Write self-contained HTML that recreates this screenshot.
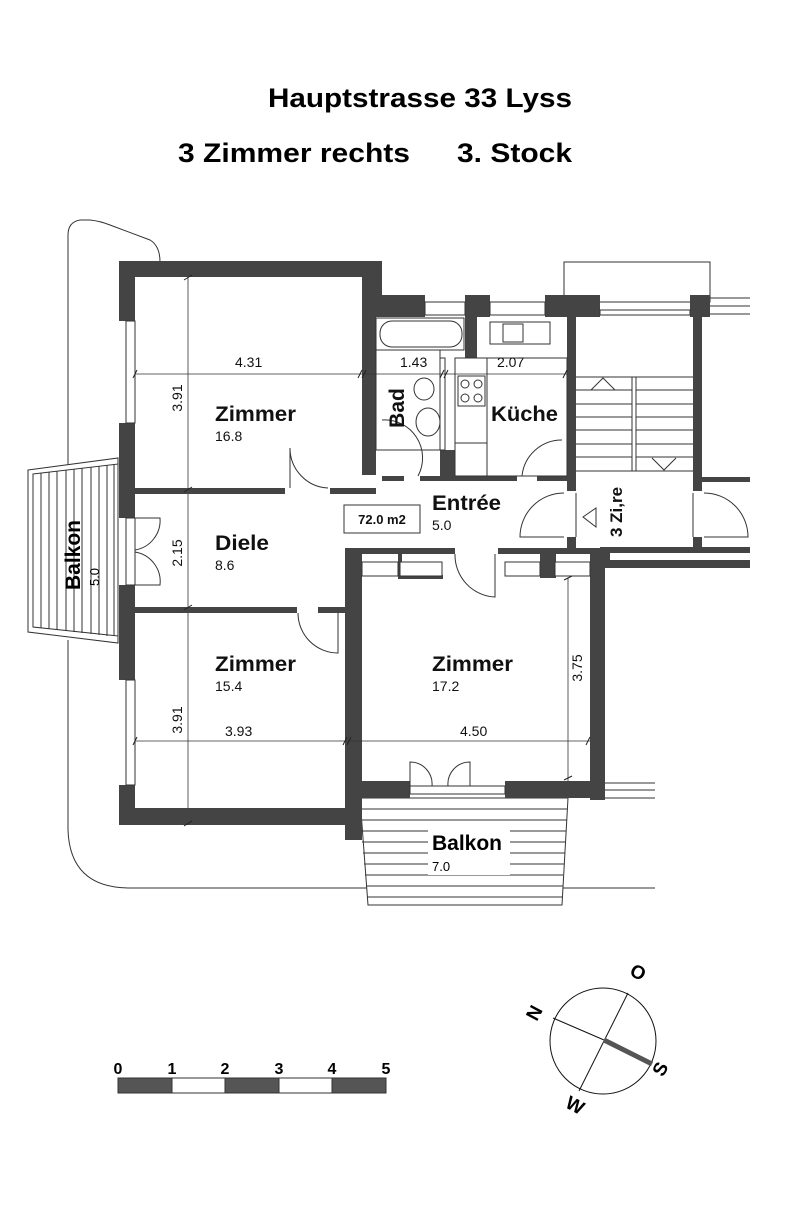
<!DOCTYPE html>
<html><head><meta charset="utf-8"><style>
html,body{margin:0;padding:0;background:#fff;}
svg{display:block;}
text{font-family:"Liberation Sans",Arial,sans-serif;}
</style></head><body>
<svg width="800" height="1208" viewBox="0 0 800 1208" xmlns="http://www.w3.org/2000/svg">
<!-- titles -->
<text x="268" y="107" font-size="27" font-weight="bold" textLength="304" lengthAdjust="spacingAndGlyphs">Hauptstrasse 33 Lyss</text>
<text x="178" y="162" font-size="27" font-weight="bold" textLength="232" lengthAdjust="spacingAndGlyphs">3 Zimmer rechts</text>
<text x="457" y="162" font-size="27" font-weight="bold" textLength="115" lengthAdjust="spacingAndGlyphs">3. Stock</text>

<!-- site outline -->
<g fill="none" stroke="#333" stroke-width="1">
<path d="M68 470 L68 235 Q68 222 80 220 L90 220 Q100 221 110 225 L150 240 Q160 246 160 262"/>
<path d="M68 640 L68 830 Q70 888 130 888 L655 888"/>
<rect x="564" y="262" width="146" height="40"/>
<path d="M703 298 L750 298 M703 306 L750 306 M703 314 L750 314"/>
<path d="M605 783 L655 783 M605 790 L655 790 M605 798 L655 798"/>
</g>

<!-- left balcony -->
<g fill="#fff" stroke="#333" stroke-width="1">
<polygon points="28,470 118,458 118,643 28,632"/>
<polygon points="33,474 118,464 118,636 33,627"/>
</g>
<g stroke="#333" stroke-width="1">
<line x1="41" y1="473" x2="41" y2="628"/><line x1="49" y1="472" x2="49" y2="629"/>
<line x1="57" y1="471" x2="57" y2="630"/><line x1="66" y1="470" x2="66" y2="631"/>
<line x1="74" y1="469" x2="74" y2="632"/><line x1="82" y1="468" x2="82" y2="633"/>
<line x1="91" y1="467" x2="91" y2="634"/><line x1="99" y1="466" x2="99" y2="635"/>
<line x1="107" y1="465" x2="107" y2="636"/><line x1="114" y1="464" x2="114" y2="636"/>
</g>
<text transform="translate(80,555) rotate(-90)" font-size="21" font-weight="bold" text-anchor="middle">Balkon</text>
<text transform="translate(99,577) rotate(-90)" font-size="13" text-anchor="middle">5.0</text>

<!-- bottom balcony -->
<polygon points="360,798 568,798 562,905 368,905" fill="#fff" stroke="#333"/>
<g stroke="#333" stroke-width="1">
<line x1="361" y1="809" x2="567" y2="809"/><line x1="361" y1="820" x2="567" y2="820"/>
<line x1="362" y1="831" x2="566" y2="831"/><line x1="362" y1="842" x2="566" y2="842"/>
<line x1="363" y1="853" x2="565" y2="853"/><line x1="364" y1="864" x2="564" y2="864"/>
<line x1="365" y1="875" x2="563" y2="875"/><line x1="366" y1="886" x2="563" y2="886"/>
<line x1="367" y1="897" x2="562" y2="897"/>
</g>
<rect x="428" y="830" width="82" height="45" fill="#fff"/>
<text x="432" y="850" font-size="21" font-weight="bold">Balkon</text>
<text x="432" y="871" font-size="13">7.0</text>

<!-- walls -->
<g fill="#444">
<rect x="119" y="261" width="263" height="16"/>
<rect x="362" y="261" width="20" height="54"/>
<rect x="362" y="295" width="63" height="22"/>
<rect x="465" y="295" width="25" height="22"/>
<rect x="545" y="295" width="55" height="22"/>
<rect x="690" y="295" width="20" height="22"/>
<rect x="362" y="315" width="14" height="160"/>
<rect x="465" y="300" width="12" height="58"/>
<rect x="119" y="261" width="16" height="60"/>
<rect x="119" y="423" width="16" height="95"/>
<rect x="119" y="585" width="16" height="95"/>
<rect x="119" y="785" width="16" height="40"/>
<rect x="119" y="808" width="243" height="17"/>
<rect x="135" y="488" width="150" height="6"/>
<rect x="330" y="488" width="46" height="6"/>
<rect x="135" y="607" width="162" height="6"/>
<rect x="318" y="607" width="27" height="6"/>
<rect x="382" y="476" width="22" height="5"/>
<rect x="420" y="476" width="97" height="5"/>
<rect x="537" y="476" width="30" height="5"/>
<rect x="440" y="450" width="15" height="27"/>
<rect x="567" y="315" width="9" height="176"/>
<rect x="693" y="315" width="9" height="176"/>
<rect x="702" y="477" width="48" height="5"/>
<rect x="567" y="537" width="9" height="12"/>
<rect x="693" y="537" width="9" height="12"/>
<rect x="600" y="547" width="150" height="6"/>
<rect x="600" y="553" width="10" height="15"/>
<rect x="600" y="560" width="150" height="8"/>
<rect x="345" y="548" width="17" height="292"/>
<rect x="345" y="548" width="110" height="6"/>
<rect x="498" y="548" width="102" height="6"/>
<rect x="398" y="554" width="4" height="24"/>
<rect x="398" y="575" width="45" height="4"/>
<rect x="540" y="554" width="16" height="24"/>
<rect x="590" y="548" width="15" height="252"/>
<rect x="345" y="781" width="65" height="17"/>
<rect x="505" y="781" width="100" height="17"/>
<rect x="345" y="808" width="17" height="32"/>
</g>
<g fill="#fff" stroke="#333" stroke-width="1">
<rect x="126" y="321" width="9" height="102"/>
<rect x="126" y="680" width="9" height="105"/>
<rect x="126" y="518" width="9" height="67"/>
<rect x="425" y="302" width="40" height="13"/>
<rect x="490" y="302" width="55" height="13"/>
<rect x="600" y="310" width="90" height="5"/>
<rect x="410" y="786" width="95" height="8"/>
<rect x="400" y="562" width="42" height="14"/>
<rect x="505" y="562" width="35" height="14"/>
<rect x="555" y="562" width="35" height="14"/>
<rect x="362" y="562" width="36" height="14"/>
</g>

<!-- fixtures -->
<g fill="none" stroke="#333" stroke-width="1">
<rect x="376" y="318" width="88" height="32"/>
<rect x="380" y="321" width="82" height="26" rx="12"/>
<rect x="376" y="350" width="64" height="100"/>
<rect x="440" y="358" width="5" height="92"/>
<ellipse cx="424" cy="389" rx="10" ry="11"/>
<ellipse cx="428" cy="422" rx="12" ry="14"/>
<rect x="490" y="322" width="60" height="22"/>
<rect x="503" y="324" width="20" height="18"/>
<rect x="455" y="358" width="112" height="118"/>
<line x1="487" y1="358" x2="487" y2="476"/>
<line x1="455" y1="443" x2="487" y2="443"/>
<rect x="458" y="376" width="27" height="30"/>
<circle cx="465" cy="384" r="4"/><circle cx="478" cy="384" r="4"/>
<circle cx="465" cy="398" r="4"/><circle cx="478" cy="398" r="4"/>
<line x1="576" y1="377" x2="693" y2="377"/>
<line x1="576" y1="390" x2="693" y2="390"/>
<line x1="576" y1="404" x2="693" y2="404"/>
<line x1="576" y1="417" x2="693" y2="417"/>
<line x1="576" y1="430" x2="693" y2="430"/>
<line x1="576" y1="444" x2="693" y2="444"/>
<line x1="576" y1="457" x2="693" y2="457"/>
<line x1="576" y1="471" x2="693" y2="471"/>
<rect x="632" y="377" width="4" height="94" fill="#fff"/>
<path d="M591 390 L603 378 L615 390"/>
<path d="M652 458 L664 470 L676 458"/>
<path d="M596 508 L583 517 L596 527 Z"/>
<path d="M290 488 L290 448 A40 40 0 0 0 328 488"/>
<path d="M298 613 A40 40 0 0 0 338 653 L338 613"/>
<path d="M382 420 A38 38 0 0 1 418 476"/>
<path d="M562 440 A40 40 0 0 0 522 476"/>
<path d="M564 493 A44 44 0 0 0 520 537 L564 537"/>
<path d="M704 493 A44 44 0 0 1 748 537 L704 537"/>
<path d="M455 554 A42 42 0 0 0 495 597 L495 554"/>
<path d="M135 518 L160 518 A30 30 0 0 1 135 550"/>
<path d="M135 585 L160 585 A30 30 0 0 0 135 552"/>
<path d="M410 786 L410 762 A22 22 0 0 1 432 786"/>
<path d="M470 786 L470 762 A22 22 0 0 0 448 786"/>
<line x1="576" y1="493" x2="576" y2="537"/>
<line x1="693" y1="493" x2="693" y2="537"/>
<rect x="344" y="505" width="76" height="28"/>
</g>

<!-- dimension lines -->
<g stroke="#333" stroke-width="0.8">
<line x1="135" y1="374" x2="567" y2="374"/>
<line x1="188" y1="277" x2="188" y2="488"/>
<line x1="188" y1="494" x2="188" y2="607"/>
<line x1="188" y1="613" x2="188" y2="808"/>
<line x1="135" y1="741" x2="590" y2="741"/>
<line x1="568" y1="578" x2="568" y2="781"/>
</g>
<g stroke="#222" stroke-width="1">
<path d="M133 378 L137 370 M358 378 L362 370 M362 378 L366 370 M440 378 L444 370 M444 378 L448 370 M563 378 L567 370"/>
<path d="M184 280 L192 275 M184 492 L192 487 M184 610 L192 605 M184 826 L192 821"/>
<path d="M133 745 L137 737 M343 745 L347 737 M347 745 L351 737 M586 745 L590 737"/>
<path d="M564 580 L572 576 M564 780 L572 776"/>
</g>

<!-- labels -->
<g fill="#111">
<text x="235" y="367" font-size="14">4.31</text>
<text x="400" y="367" font-size="14">1.43</text>
<text x="497" y="367" font-size="14">2.07</text>
<text transform="translate(182,398) rotate(-90)" font-size="14" text-anchor="middle">3.91</text>
<text transform="translate(182,553) rotate(-90)" font-size="14" text-anchor="middle">2.15</text>
<text transform="translate(182,720) rotate(-90)" font-size="14" text-anchor="middle">3.91</text>
<text transform="translate(582,668) rotate(-90)" font-size="14" text-anchor="middle">3.75</text>
<text x="225" y="736" font-size="14">3.93</text>
<text x="460" y="736" font-size="14">4.50</text>
<text x="215" y="421" font-size="21" font-weight="bold" textLength="81" lengthAdjust="spacingAndGlyphs">Zimmer</text>
<text x="215" y="441" font-size="14">16.8</text>
<text transform="translate(404,408) rotate(-90)" font-size="21" font-weight="bold" text-anchor="middle">Bad</text>
<text x="491" y="421" font-size="21" font-weight="bold" textLength="67" lengthAdjust="spacingAndGlyphs">Küche</text>
<text x="432" y="510" font-size="21" font-weight="bold" textLength="69" lengthAdjust="spacingAndGlyphs">Entrée</text>
<text x="432" y="530" font-size="14">5.0</text>
<text x="382" y="524" font-size="13" font-weight="bold" text-anchor="middle">72.0 m2</text>
<text x="215" y="550" font-size="21" font-weight="bold" textLength="54" lengthAdjust="spacingAndGlyphs">Diele</text>
<text x="215" y="570" font-size="14">8.6</text>
<text x="215" y="671" font-size="21" font-weight="bold" textLength="81" lengthAdjust="spacingAndGlyphs">Zimmer</text>
<text x="215" y="691" font-size="14">15.4</text>
<text x="432" y="671" font-size="21" font-weight="bold" textLength="81" lengthAdjust="spacingAndGlyphs">Zimmer</text>
<text x="432" y="691" font-size="14">17.2</text>
<text transform="translate(622,512) rotate(-90)" font-size="17" font-weight="bold" text-anchor="middle">3 Zi,re</text>
</g>

<!-- scale bar -->
<g stroke="#333" stroke-width="1">
<rect x="118" y="1078" width="54" height="15" fill="#555"/>
<rect x="172" y="1078" width="53" height="15" fill="#fff"/>
<rect x="225" y="1078" width="54" height="15" fill="#555"/>
<rect x="279" y="1078" width="53" height="15" fill="#fff"/>
<rect x="332" y="1078" width="54" height="15" fill="#555"/>
</g>
<g font-size="16" font-weight="bold" text-anchor="middle">
<text x="118" y="1074">0</text><text x="172" y="1074">1</text><text x="225" y="1074">2</text>
<text x="279" y="1074">3</text><text x="332" y="1074">4</text><text x="386" y="1074">5</text>
</g>

<!-- compass -->
<g stroke="#111" fill="none" stroke-width="1">
<circle cx="603" cy="1041" r="53"/>
<line x1="553" y1="1018" x2="604" y2="1040"/>
<line x1="628" y1="993" x2="579" y2="1091"/>
</g>
<line x1="604" y1="1040" x2="652" y2="1064" stroke="#555" stroke-width="5"/>
<g font-size="19" font-weight="bold" text-anchor="middle">
<text transform="translate(540,1016) rotate(-62)">N</text>
<text transform="translate(635,978) rotate(28)">O</text>
<text transform="translate(666,1072) rotate(-62)">S</text>
<text transform="translate(572,1111) rotate(28)">W</text>
</g>
</svg>
</body></html>
